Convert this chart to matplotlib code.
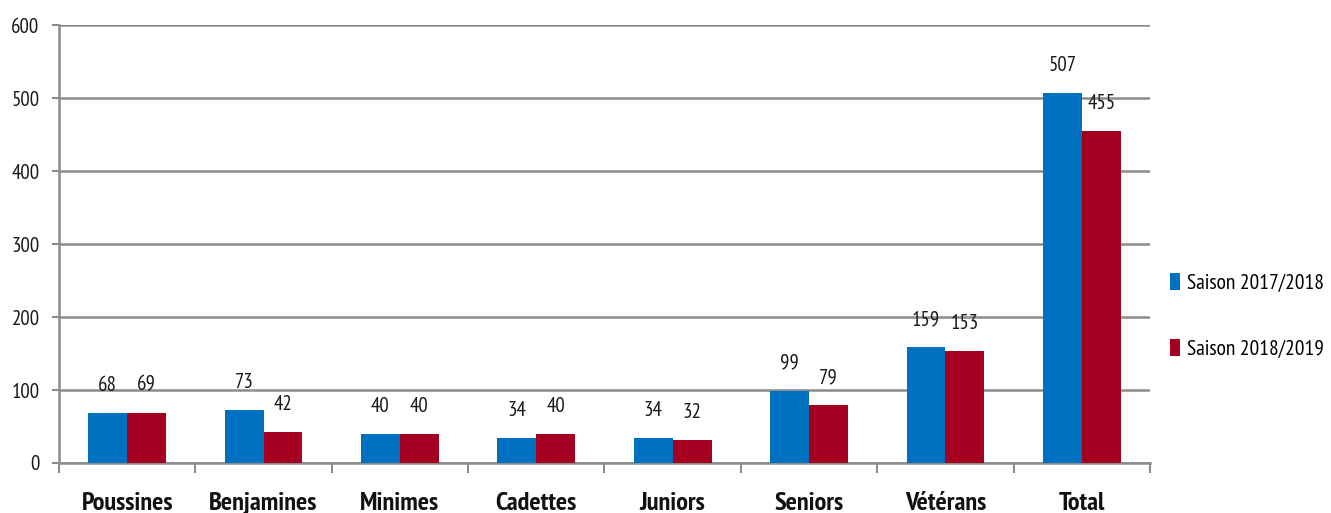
import numpy as np
import matplotlib.pyplot as plt

categories = ['Poussines', 'Benjamines', 'Minimes', 'Cadettes', 'Juniors', 'Seniors', 'Vétérans', 'Total']
saison_2017 = [68, 73, 40, 34, 34, 99, 159, 507]
saison_2018 = [69, 42, 40, 40, 32, 79, 153, 455]
series_labels = ['Saison 2017/2018', 'Saison 2018/2019']
colors = ['#0070C0', '#A50021']

# narrow face, close to the squeezed Calibri of the original
plt.rcParams['font.family'] = ['PT Sans Narrow', 'DejaVu Sans']

fig = plt.figure(figsize=(13.31, 5.13), dpi=100)
ax = fig.add_axes([0.0443, 0.0975, 0.8197, 0.8535])

x = np.arange(len(categories))
w = 0.285
b1 = ax.bar(x - w / 2, saison_2017, w, color=colors[0], label=series_labels[0], zorder=3)
b2 = ax.bar(x + w / 2, saison_2018, w, color=colors[1], label=series_labels[1], zorder=3)

# value labels above bars
for bars in (b1, b2):
    for rect in bars:
        h = rect.get_height()
        ax.annotate(str(int(h)), (rect.get_x() + rect.get_width() / 2, h),
                    xytext=(0, 13), textcoords='offset points',
                    ha='center', va='bottom', fontsize=15, color='#1a1a1a')

ax.set_xlim(-0.5, len(categories) - 0.5)
ax.set_ylim(0, 600)
ax.set_yticks(range(0, 601, 100))
ax.yaxis.grid(True, color='#8c8c8c', linewidth=1.8, zorder=0)
ax.set_axisbelow(True)

ax.set_xticks(x)
ax.set_xticklabels(categories, fontsize=19, fontweight='bold', color='#111111')
ax.set_xticks(np.arange(-0.5, len(categories)), minor=True)
ax.tick_params(axis='x', which='major', length=0, pad=21)
ax.tick_params(axis='x', which='minor', length=7, width=1.5, color='#8c8c8c')
ax.tick_params(axis='y', length=5, width=1.5, color='#8c8c8c', labelsize=15, pad=9, labelcolor='#1a1a1a')

for s in ['top', 'right']:
    ax.spines[s].set_visible(False)
for s in ['left', 'bottom']:
    ax.spines[s].set_color('#8c8c8c')
    ax.spines[s].set_linewidth(1.8)

ax.legend(loc='center left', bbox_to_anchor=(1.001, 0.336), frameon=False,
          fontsize=15.5, handlelength=0.45, handleheight=0.85, handletextpad=0.3,
          labelspacing=2.15)

plt.savefig('out.png', dpi=100)
